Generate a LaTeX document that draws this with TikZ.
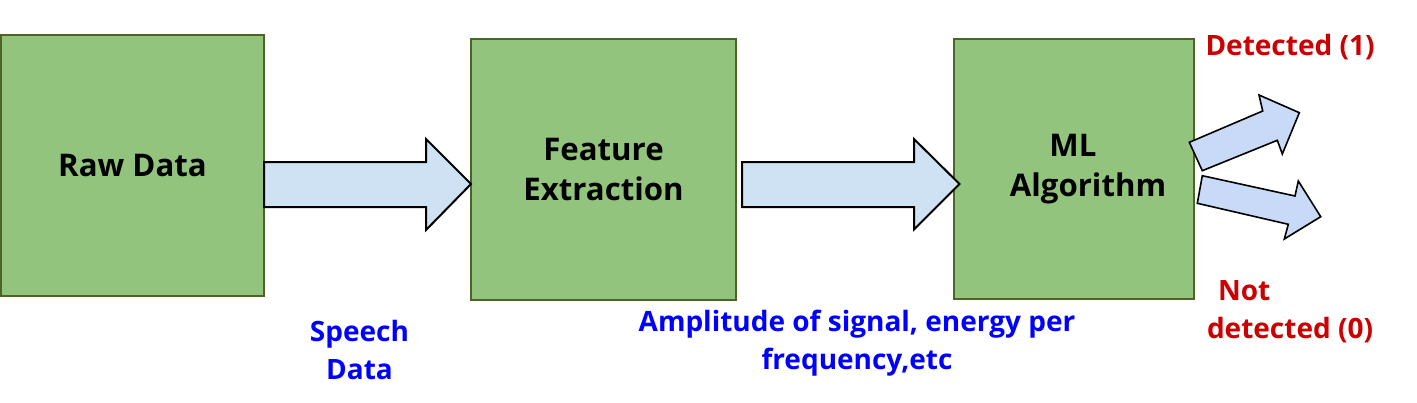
\documentclass[tikz,border=0pt]{standalone}
\usepackage{fontspec}
\setmainfont{Open Sans}
\definecolor{boxfill}{RGB}{147,196,125}
\definecolor{boxline}{RGB}{78,100,36}
\definecolor{arrfill}{RGB}{207,226,243}
\definecolor{arrfillb}{RGB}{201,218,248}
\definecolor{lblblue}{RGB}{0,0,255}
\definecolor{lblred}{RGB}{204,0,0}
\tikzset{
  stagebox/.style={draw=boxline, line width=1pt, fill=boxfill},
  stagetext/.style={font=\fontsize{15.6pt}{20pt}\selectfont\bfseries, align=center, inner sep=0pt},
  fatarrow/.style={draw=black, line width=1pt, fill=arrfill, line join=miter},
  fatarrowb/.style={draw=black, line width=0.8pt, fill=arrfillb, line join=miter},
  bluelbl/.style={font=\fontsize{14pt}{19pt}\selectfont\bfseries, text=lblblue, align=center, inner sep=0pt},
  redlbl/.style={font=\fontsize{14pt}{19pt}\selectfont\bfseries, text=lblred, inner sep=0pt}
}
\begin{document}
\begin{tikzpicture}[x=0.5pt,y=-0.5pt]
\useasboundingbox[fill=white] (0,0) rectangle (1417,402);
% boxes
\draw[stagebox] (1,35) rectangle (264,296);
\draw[stagebox] (471,39) rectangle (736,300);
\draw[stagebox] (954,39) rectangle (1194,299);
\node[stagetext] (raw) at (132.5,165.5) {Raw Data};
\node[stagetext] (feat) at (603.5,169.5) {Feature\\Extraction};
\node[stagetext] (ml) at (1088,169.5) {ML\rule{15pt}{0pt}\\Algorithm};
% block arrows
\draw[fatarrow] (264,162) -- (426,162) -- (426,139) -- (471,184) -- (426,230) -- (426,207) -- (264,207) -- cycle;
\draw[fatarrow] (742,162) -- (914,162) -- (914,139) -- (959.5,184) -- (914,229.5) -- (914,207) -- (742,207) -- cycle;
\draw[fatarrowb] (1202.3,170.7) -- (1189.3,142.3) -- (1262.7,111) -- (1259,95) -- (1299.3,112.7) -- (1282.3,154) -- (1277.3,140.3) -- cycle;
\draw[fatarrowb] (1202.3,175.7) -- (1197.3,203.3) -- (1288.3,224.3) -- (1284.3,239) -- (1320.7,216.7) -- (1298.3,181) -- (1295,196) -- cycle;
% labels
\node[bluelbl] (speech) at (359.5,349.5) {Speech\\Data};
\node[bluelbl] (ampl) at (857,343.5) {Amplitude of signal, energy per\\frequency,etc};
\node[redlbl, anchor=base] (det) at (1290,55) {Detected (1)};
\node[redlbl, align=left] (notdet) at (1290,311.5) {\hspace{5.5pt}Not\\detected (0)};
\end{tikzpicture}
\end{document}
